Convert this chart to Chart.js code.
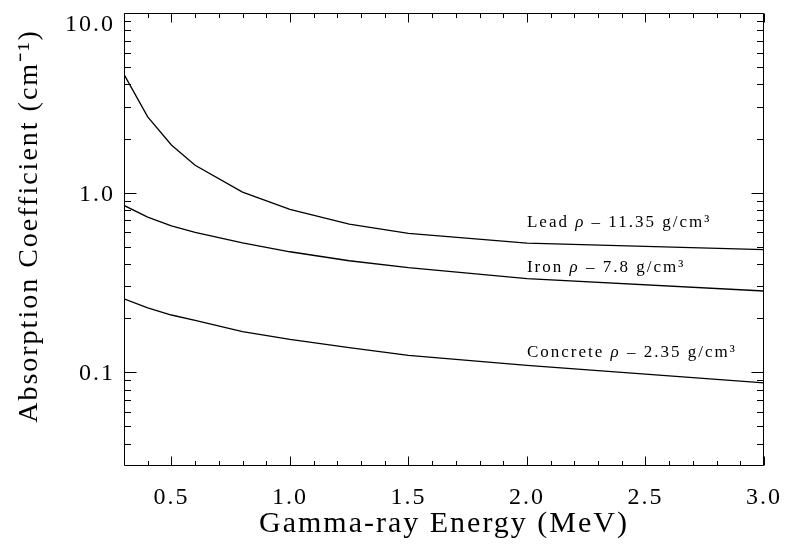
<!DOCTYPE html>
<html>
<head>
<meta charset="utf-8">
<script src="https://cdn.jsdelivr.net/npm/chart.js@4.4.0/dist/chart.umd.min.js"></script>
<style>
html,body{margin:0;padding:0;background:#fff;}
#wrap{width:787px;height:548px;}
</style>
</head>
<body>
<div id="wrap"><canvas id="c" width="787" height="548"></canvas></div>
<script>
// ---- data ----
const energies       = [0.3, 0.4, 0.5, 0.6, 0.8, 1.0, 1.25, 1.5, 2.0, 3.0];
const leadValues     = [4.55, 2.64, 1.84, 1.42, 1.005, 0.805, 0.667, 0.593, 0.523, 0.481];
const ironValues     = [0.848, 0.729, 0.652, 0.600, 0.524, 0.468, 0.417, 0.382, 0.332, 0.283];
const concreteValues = [0.256, 0.228, 0.208, 0.194, 0.168, 0.152, 0.137, 0.124, 0.109, 0.087];
const seriesNames    = ['Lead', 'Iron', 'Concrete'];
const densities      = ['11.35', '7.8', '2.35'];
const labelAnchorX   = 2.0;
const labelAnchorY   = [0.646, 0.363, 0.122];

const xMajorTicks = [0.5, 1.0, 1.5, 2.0, 2.5, 3.0];
const xMinorTicks = [0.4, 0.6, 0.7, 0.8, 0.9, 1.1, 1.2, 1.3, 1.4, 1.6, 1.7, 1.8, 1.9,
                     2.1, 2.2, 2.3, 2.4, 2.6, 2.7, 2.8, 2.9];
const yMajorTicks = [0.1, 1, 10];
const yMinorTicks = [0.04, 0.05, 0.06, 0.07, 0.08, 0.09,
                     0.2, 0.3, 0.4, 0.5, 0.6, 0.7, 0.8, 0.9,
                     2, 3, 4, 5, 6, 7, 8, 9];

const FONT = '"Liberation Serif", "Times New Roman", serif';

function toPoints(vals) { return energies.map((e, i) => ({x: e, y: vals[i]})); }
const seriesValues = [leadValues, ironValues, concreteValues];

const datasets = seriesValues.map((vals, i) => ({
  label: seriesNames[i],
  data: toPoints(vals),
  borderColor: '#000',
  borderWidth: 1.3,
  pointRadius: 0,
  tension: 0,
  fill: false
}));

const frameTicks = {
  id: 'frameTicks',
  beforeDraw(chart) { chart.ctx.letterSpacing = '2px'; },
  afterDraw(chart) {
    const {ctx, chartArea: a, scales: {x, y}} = chart;
    ctx.save();
    ctx.letterSpacing = '0px';
    ctx.strokeStyle = '#000';
    ctx.lineWidth = 1;
    const L = Math.round(a.left) + 0.5, R = Math.round(a.right) - 0.5;
    const T = Math.round(a.top) + 0.5, B = Math.round(a.bottom) - 0.5;
    ctx.beginPath();
    ctx.rect(L, T, R - L, B - T);
    const xt = (v, len) => {
      const p = Math.round(x.getPixelForValue(v)) + 0.5;
      ctx.moveTo(p, B); ctx.lineTo(p, B - len);
      ctx.moveTo(p, T); ctx.lineTo(p, T + len);
    };
    const yt = (v, len) => {
      const p = Math.round(y.getPixelForValue(v)) + 0.5;
      ctx.moveTo(L, p); ctx.lineTo(L + len, p);
      ctx.moveTo(R, p); ctx.lineTo(R - len, p);
    };
    xMajorTicks.forEach(v => xt(v, 9));
    xMinorTicks.forEach(v => xt(v, 4.5));
    yMajorTicks.forEach(v => yt(v, 12));
    yMinorTicks.forEach(v => yt(v, 6.5));
    ctx.stroke();

    // curve labels
    ctx.fillStyle = '#000';
    ctx.textBaseline = 'alphabetic';
    ctx.textAlign = 'left';
    ctx.letterSpacing = '2px';
    seriesNames.forEach((name, i) => {
      let px = x.getPixelForValue(labelAnchorX);
      const py = y.getPixelForValue(labelAnchorY[i]);
      const parts = [
        [name + ' ', 'normal'],
        ['ρ', 'italic'],
        [' – ' + densities[i] + ' g/cm³', 'normal']
      ];
      parts.forEach(([txt, style]) => {
        ctx.font = style + ' 17px ' + FONT;
        ctx.fillText(txt, px, py);
        px += ctx.measureText(txt).width;
      });
    });
    ctx.restore();
  }
};

new Chart(document.getElementById('c'), {
  type: 'line',
  data: {datasets},
  plugins: [frameTicks],
  options: {
    responsive: false,
    animation: false,
    layout: {autoPadding: false, padding: {top: 13, right: 23, left: 0, bottom: 0}},
    plugins: {legend: {display: false}, tooltip: {enabled: false}},
    scales: {
      x: {
        type: 'linear',
        min: 0.3, max: 3.0,
        grid: {display: false, drawTicks: false},
        border: {display: false},
        afterBuildTicks: s => { s.ticks = xMajorTicks.map(v => ({value: v})); },
        afterFit: s => { s.height = 82; s.paddingLeft = 0; s.paddingRight = 0; },
        ticks: {
          color: '#000',
          padding: 17,
          maxRotation: 0,
          autoSkip: false,
          font: {family: FONT, size: 24},
          callback: v => Number(v).toFixed(1)
        },
        title: {
          display: true,
          text: 'Gamma-ray Energy (MeV)',
          color: '#000',
          font: {family: FONT, size: 30},
          padding: {top: 0, bottom: 6}
        }
      },
      y: {
        type: 'logarithmic',
        min: 0.03, max: 10,
        grid: {display: false, drawTicks: false},
        border: {display: false},
        afterBuildTicks: s => { s.ticks = yMajorTicks.map(v => ({value: v})); },
        afterFit: s => { s.width = 124; s.paddingTop = 0; s.paddingBottom = 0; },
        ticks: {
          color: '#000',
          padding: 9,
          autoSkip: false,
          labelOffset: 2,
          font: {family: FONT, size: 24, lineHeight: 0.8},
          callback: v => (v >= 10 ? ['', Number(v).toFixed(1)] : Number(v).toFixed(1))
        },
        title: {
          display: true,
          text: '   Absorption Coefficient (cm⁻¹)',
          color: '#000',
          font: {family: FONT, size: 28},
          padding: {top: 13, bottom: 0}
        }
      }
    }
  }
});
</script>
</body>
</html>
